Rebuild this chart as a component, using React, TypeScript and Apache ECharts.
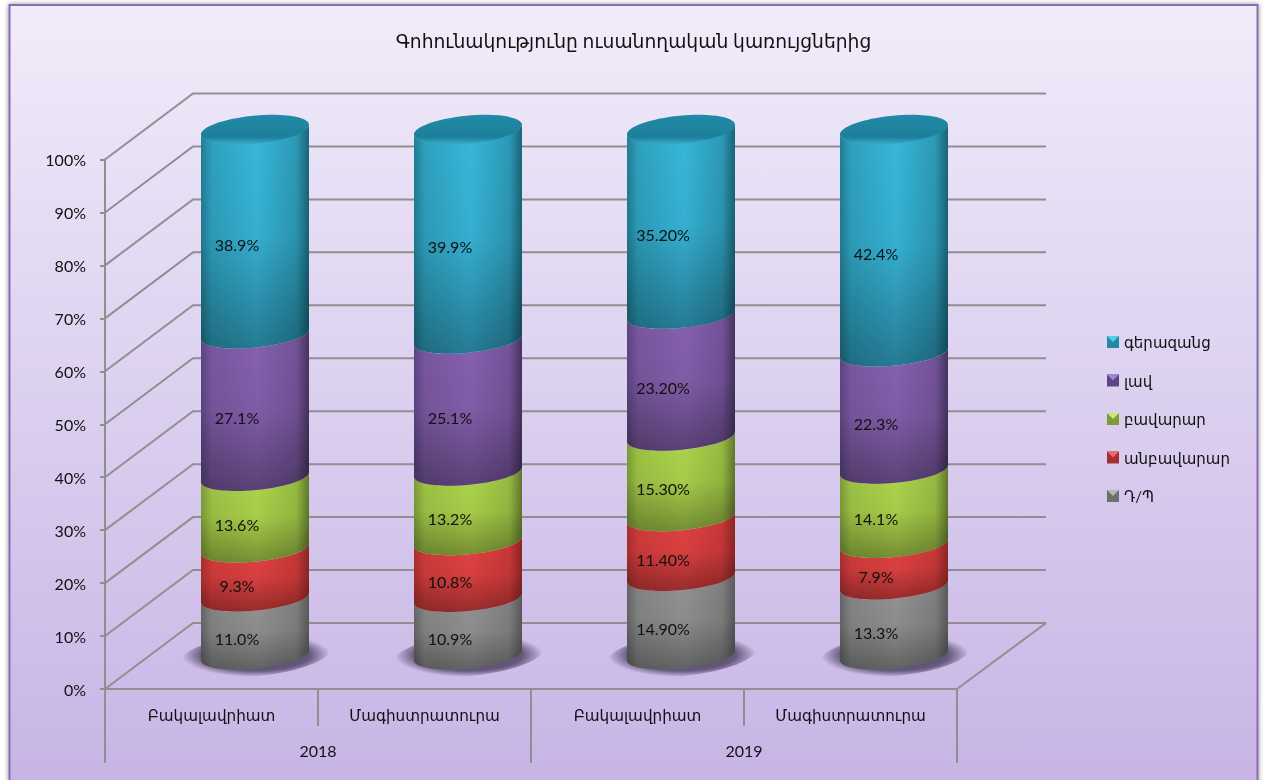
import React, { useEffect, useRef } from "react";
import * as echarts from "echarts";

const title = "Գոհունակությունը ուսանողական կառույցներից";
const categories = ["Բակալավրիատ", "Մագիստրատուրա", "Բակալավրիատ", "Մագիստրատուրա"];
const years = ["2018", "2019"];
const yTicks = [0, 10, 20, 30, 40, 50, 60, 70, 80, 90, 100];

const seriesNames = ["Դ/Պ", "անբավարար", "բավարար", "լավ", "գերազանց"];
const dpValues = [11.0, 10.9, 14.9, 13.3];
const poorValues = [9.3, 10.8, 11.4, 7.9];
const fairValues = [13.6, 13.2, 15.3, 14.1];
const goodValues = [27.1, 25.1, 23.2, 22.3];
const excellentValues = [38.9, 39.9, 35.2, 42.4];
const dpLabels = ["11.0%", "10.9%", "14.90%", "13.3%"];
const poorLabels = ["9.3%", "10.8%", "11.40%", "7.9%"];
const fairLabels = ["13.6%", "13.2%", "15.30%", "14.1%"];
const goodLabels = ["27.1%", "25.1%", "23.20%", "22.3%"];
const excellentLabels = ["38.9%", "39.9%", "35.20%", "42.4%"];

const allValues = [dpValues, poorValues, fairValues, goodValues, excellentValues];
const allLabels = [dpLabels, poorLabels, fairLabels, goodLabels, excellentLabels];

const palette = [
  { edgeL: "#666666", soft: "#858585", mid: "#939393", softR: "#808080", edgeR: "#5a5a5a", legend: "#6f6f6f", bevel: "#b5b5b5" },
  { edgeL: "#ab2f2f", soft: "#d03b3b", mid: "#e24242", softR: "#c93838", edgeR: "#8f2525", legend: "#a52f2f", bevel: "#ee6a6a" },
  { edgeL: "#7d9c38", soft: "#9dc445", mid: "#aed64c", softR: "#97bc42", edgeR: "#62792c", legend: "#7d9b38", bevel: "#c9ea70" },
  { edgeL: "#5c4583", soft: "#79579f", mid: "#8661b0", softR: "#745399", edgeR: "#46345f", legend: "#5d4488", bevel: "#9f84c8" },
  { edgeL: "#217c94", soft: "#2ea1be", mid: "#38b7dc", softR: "#2c9ab6", edgeR: "#196478", legend: "#2389a4", bevel: "#4fd0ee" },
];

const FONT = "Lato, 'Noto Sans', 'DejaVu Sans', sans-serif";
const TEXT = "#111111";
const LINE = "#8f8f8f";
const GRID = { left: 105, right: 957, top: 159.5, bottom: 689 };
const DEPTH = { x: 88, y: -66 };
const BAR_SHIFT = { x: 43.5, y: -33.5 };
const BAR_SCALE = 0.993;
const BAR_RATIO = 108 / 213;
const MINOR = 13;
const TILT = 5.5;
const LEGEND = { x: 1107, y: 336, step: 38.5, size: 12 };
const K = 0.5522848;

type Pt = [number, number];

// Rotated half ellipses as cubic curves; the SVG renderer mishandles rotated arcs.
function frame(cx: number, cy: number, a: number, b: number) {
  const t = (TILT * Math.PI) / 180;
  const u: Pt = [Math.cos(t), -Math.sin(t)];
  const v: Pt = [Math.sin(t), Math.cos(t)];
  const at = (p: number, q: number): string =>
    `${(cx + p * a * u[0] + q * b * v[0]).toFixed(2)} ${(cy + p * a * u[1] + q * b * v[1]).toFixed(2)}`;
  return at;
}

function bodyPath(cx: number, yTop: number, yBot: number, a: number) {
  const t = frame(cx, yTop, a, MINOR);
  const b = frame(cx, yBot, a, MINOR);
  return (
    `M${t(-1, 0)}C${t(-1, K)} ${t(-K, 1)} ${t(0, 1)}C${t(K, 1)} ${t(1, K)} ${t(1, 0)}` +
    `L${b(1, 0)}C${b(1, K)} ${b(K, 1)} ${b(0, 1)}C${b(-K, 1)} ${b(-1, K)} ${b(-1, 0)}Z`
  );
}

function ellipsePath(cx: number, cy: number, a: number, minor: number) {
  const e = frame(cx, cy, a, minor);
  return (
    `M${e(-1, 0)}C${e(-1, K)} ${e(-K, 1)} ${e(0, 1)}C${e(K, 1)} ${e(1, K)} ${e(1, 0)}` +
    `C${e(1, -K)} ${e(K, -1)} ${e(0, -1)}C${e(-K, -1)} ${e(-1, -K)} ${e(-1, 0)}Z`
  );
}

function cumulative(seriesIdx: number, catIdx: number) {
  let total = 0;
  let before = 0;
  allValues.forEach((vals, i) => {
    total += vals[catIdx];
    if (i < seriesIdx) before += vals[catIdx];
  });
  return { from: (before / total) * 100, to: ((before + allValues[seriesIdx][catIdx]) / total) * 100 };
}

function barY(frontY: number) {
  return GRID.bottom + (frontY - GRID.bottom) * BAR_SCALE + BAR_SHIFT.y;
}

export default function App() {
  const ref = useRef<HTMLDivElement>(null);
  useEffect(() => {
    const chart = echarts.init(ref.current!, undefined, { renderer: "svg" });

    const gridSeries: any = {
      type: "custom",
      silent: true,
      clip: false,
      z: 1,
      data: yTicks.map((v) => [0, v]),
      encode: { x: 0, y: 1 },
      renderItem: (params: any, api: any) => {
        const y = api.coord([0, api.value(1)])[1];
        const cs = params.coordSys;
        const x0 = cs.x;
        const x1 = cs.x + cs.width;
        const children: any[] = [
          {
            type: "polyline",
            shape: { points: [[x0, y], [x0 + DEPTH.x, y + DEPTH.y], [x1 + DEPTH.x + 1, y + DEPTH.y]] },
            style: { stroke: LINE, lineWidth: 2, fill: "none" },
          },
        ];
        if (api.value(1) === 0) {
          children.push({
            type: "line",
            shape: { x1, y1: y, x2: x1 + DEPTH.x + 1, y2: y + DEPTH.y },
            style: { stroke: LINE, lineWidth: 2 },
          });
        }
        return { type: "group", children };
      },
    };

    const shadowSeries: any = {
      type: "custom",
      silent: true,
      clip: false,
      z: 2,
      data: categories.map((_, i) => [i, 0]),
      encode: { x: 0, y: 1 },
      renderItem: (_p: any, api: any) => {
        const c = api.coord([api.value(0), 0]);
        const cx = c[0] + BAR_SHIFT.x + 1;
        const cy = barY(c[1]) - 0.5;
        return {
          type: "path",
          shape: { pathData: ellipsePath(cx, cy, 75, 21) },
          style: {
            fill: {
              type: "radial",
              x: 0.5,
              y: 0.5,
              r: 0.5,
              colorStops: [
                { offset: 0, color: "rgba(66,56,90,0.95)" },
                { offset: 0.72, color: "rgba(66,56,90,0.75)" },
                { offset: 1, color: "rgba(66,56,90,0)" },
              ],
            },
          },
        };
      },
    };

    const barSeries: any[] = seriesNames.map((name, s) => ({
      type: "custom",
      name,
      silent: true,
      clip: false,
      z: 3,
      itemStyle: { color: palette[s].legend },
      data: allValues[s].map((v, i) => [i, v]),
      encode: { x: 0, y: 1 },
      renderItem: (_p: any, api: any) => {
        const cat = api.value(0);
        const band = api.size([1, 0])[0];
        const a = (band * BAR_RATIO) / 2 / Math.cos((TILT * Math.PI) / 180);
        const { from, to } = cumulative(s, cat);
        const pBot = api.coord([cat, from]);
        const pTop = api.coord([cat, to]);
        const cx = pBot[0] + BAR_SHIFT.x;
        const yBot = barY(pBot[1]);
        const yTop = barY(pTop[1]);
        const d = bodyPath(cx, yTop, yBot, a);
        const p = palette[s];
        const children: any[] = [
          {
            type: "path",
            shape: { pathData: d },
            style: {
              fill: {
                type: "linear",
                x: 0,
                y: 0,
                x2: 1,
                y2: 0,
                colorStops: [
                  { offset: 0, color: p.edgeL },
                  { offset: 0.1, color: p.soft },
                  { offset: 0.52, color: p.mid },
                  { offset: 0.88, color: p.softR },
                  { offset: 1, color: p.edgeR },
                ],
              },
            },
          },
          {
            type: "path",
            shape: { pathData: d },
            style: {
              fill: {
                type: "linear",
                x: 0,
                y: 0,
                x2: 0,
                y2: 1,
                colorStops: [
                  { offset: 0, color: "rgba(0,0,0,0)" },
                  { offset: 0.5, color: "rgba(0,0,0,0.05)" },
                  { offset: 1, color: "rgba(0,0,0,0.33)" },
                ],
              },
            },
          },
        ];
        if (s === seriesNames.length - 1) {
          children.push({
            type: "path",
            shape: { pathData: ellipsePath(cx, yTop, a, MINOR + 1) },
            style: {
              fill: {
                type: "linear",
                x: 0,
                y: 0,
                x2: 0,
                y2: 1,
                colorStops: [
                  { offset: 0, color: "#218aa6" },
                  { offset: 0.75, color: "#1d7f9a" },
                  { offset: 1, color: "#3aaecb" },
                ],
              },
            },
          });
        }
        children.push({
          type: "text",
          z2: 10,
          style: {
            text: allLabels[s][cat],
            x: cx - 18,
            y: (yTop + yBot) / 2 + 12,
            fill: TEXT,
            font: `16px ${FONT}`,
            align: "center",
            verticalAlign: "middle",
          },
        });
        return { type: "group", children };
      },
    }));

    const legendOrder = [...seriesNames].reverse();
    const bevels = legendOrder.map((_, i) => {
      const s = seriesNames.length - 1 - i;
      const y = LEGEND.y + i * LEGEND.step;
      return {
        type: "polygon",
        z: 20,
        silent: true,
        shape: {
          points: [
            [LEGEND.x, y],
            [LEGEND.x + LEGEND.size, y],
            [LEGEND.x + LEGEND.size / 2, y + LEGEND.size / 2],
          ],
        },
        style: { fill: palette[s].bevel },
      };
    });

    chart.setOption({
      animation: false,
      title: {
        text: title,
        left: 628.5,
        top: 26,
        textAlign: "center",
        textStyle: { fontFamily: FONT, fontSize: 18.7, fontWeight: "normal", color: TEXT },
      },
      legend: {
        orient: "vertical",
        left: LEGEND.x,
        top: LEGEND.y - 2,
        padding: 0,
        data: legendOrder,
        icon: "rect",
        itemWidth: LEGEND.size,
        itemHeight: LEGEND.size,
        itemGap: 22.5,
        selectedMode: false,
        textStyle: { fontFamily: FONT, fontSize: 15, color: TEXT, lineHeight: 16 },
      },
      grid: {
        left: GRID.left,
        top: GRID.top,
        width: GRID.right - GRID.left,
        height: GRID.bottom - GRID.top,
        containLabel: false,
      },
      xAxis: [
        {
          type: "category",
          data: categories,
          boundaryGap: true,
          position: "bottom",
          axisLine: { show: true, lineStyle: { color: LINE, width: 2 } },
          axisTick: { show: true, alignWithLabel: false, length: 37, lineStyle: { color: LINE, width: 2 } },
          axisLabel: { margin: 18, interval: 0, fontFamily: FONT, fontSize: 15.2, color: TEXT },
        },
        {
          type: "category",
          data: years,
          boundaryGap: true,
          position: "bottom",
          axisLine: { show: false },
          axisTick: { show: true, length: 74, lineStyle: { color: LINE, width: 2 } },
          axisLabel: { margin: 53, interval: 0, fontFamily: FONT, fontSize: 16, color: TEXT },
        },
      ],
      yAxis: {
        type: "value",
        min: 0,
        max: 100,
        interval: 10,
        axisLine: { show: true, lineStyle: { color: LINE, width: 2 } },
        axisTick: { show: true, length: 5, lineStyle: { color: LINE, width: 2 } },
        axisLabel: { margin: 19, formatter: "{value}%", fontFamily: FONT, fontSize: 16, color: TEXT },
        splitLine: { show: false },
      },
      graphic: {
        elements: [
          {
            type: "rect",
            z: -10,
            silent: true,
            shape: { x: 9.5, y: 5, width: 1248, height: 800 },
            style: {
              fill: {
                type: "linear",
                x: 0,
                y: 0,
                x2: 0,
                y2: 1,
                colorStops: [
                  { offset: 0, color: "#F1ECFA" },
                  { offset: 0.975, color: "#C7B4E5" },
                  { offset: 1, color: "#C7B4E5" },
                ],
              },
              stroke: "#8A6CB3",
              lineWidth: 2,
              shadowBlur: 5,
              shadowColor: "rgba(0,0,0,0.45)",
            },
          },
          ...bevels,
        ],
      },
      series: [gridSeries, shadowSeries, ...barSeries],
    });
    return () => chart.dispose();
  }, []);
  return <div ref={ref} style={{ position: "fixed", left: 0, top: 0, width: 1264, height: 780 }} />;
}
